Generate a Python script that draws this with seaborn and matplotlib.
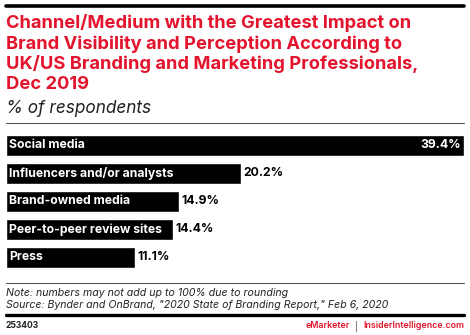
import matplotlib
matplotlib.use("Agg")
import matplotlib.pyplot as plt
import seaborn as sns
import pandas as pd
from matplotlib.lines import Line2D

categories = ["Social media", "Influencers and/or analysts", "Brand-owned media",
              "Peer-to-peer review sites", "Press"]
values = [39.4, 20.2, 14.9, 14.4, 11.1]
value_labels = ["39.4%", "20.2%", "14.9%", "14.4%", "11.1%"]

title_lines = ["Channel/Medium with the Greatest Impact on",
               "Brand Visibility and Perception According to",
               "UK/US Branding and Marketing Professionals,",
               "Dec 2019"]
subtitle = "% of respondents"
note = "Note: numbers may not add up to 100% due to rounding"
source = "Source: Bynder and OnBrand, \"2020 State of Branding Report,\" Feb 6, 2020"
chart_id = "253403"

sns.set_theme(style="white")
plt.rcParams['font.family'] = ['Inter', 'DejaVu Sans']

W, H = 470, 335
fig = plt.figure(figsize=(W/100, H/100), dpi=100)

def fx(x): return x / W
def fy(y): return 1 - y / H

RED = "#e3142d"

# top black line
fig.add_artist(Line2D([fx(6), fx(464)], [fy(6), fy(6)], color="black", lw=2.6))
for k, line in enumerate(title_lines):
    fig.text(fx(6), fy(28.5 + 20.3 * k), line, color=RED, fontsize=13.2,
             fontweight="bold", va="baseline", ha="left")
fig.text(fx(6), fy(113), subtitle, color="#222222", fontsize=12.4, style="italic",
         va="baseline", ha="left")
fig.add_artist(Line2D([fx(6), fx(464)], [fy(123), fy(123)], color="#555555", lw=0.8))

df = pd.DataFrame({"category": categories, "value": values})
ax = fig.add_axes([fx(6), fy(271.5), fx(464) - fx(6), fy(131.5) - fy(271.5)])
sns.barplot(data=df, y="category", x="value", color="black", width=0.75,
            saturation=1, ax=ax, orient="h")
ax.set_xlim(0, values[0])
ax.set_ylim(len(categories) - 0.5, -0.5)
ax.axis("off")

for i, (c, v, lab) in enumerate(zip(categories, values, value_labels)):
    ax.text(0.3, i, c, color="white", fontsize=8.8, fontweight="bold",
            va="center", ha="left")
    if i == 0:
        ax.text(v - 0.3, i, lab, color="white", fontsize=8.8, fontweight="bold",
                va="center", ha="right")
    else:
        ax.text(v + 0.2, i, lab, color="black", fontsize=8.8, fontweight="bold",
                va="center", ha="left")

fig.add_artist(Line2D([fx(6), fx(464)], [fy(283), fy(283)], color="#555555", lw=0.8))
fig.text(fx(6), fy(293), note, color="#222222", fontsize=7.6, style="italic",
         va="center", ha="left")
fig.text(fx(6), fy(305), source, color="#222222", fontsize=7.6, style="italic",
         va="center", ha="left")
fig.add_artist(Line2D([fx(6), fx(464)], [fy(315), fy(315)], color="black", lw=2.4))
fig.text(fx(6), fy(326), chart_id, color="#222222", fontsize=6.2, fontweight="bold",
         va="center", ha="left")

fs = 6.4
t3 = fig.text(fx(464), fy(326), "InsiderIntelligence.com", color=RED, fontsize=fs,
              fontweight="semibold", va="center", ha="right")
fig.canvas.draw()
r = fig.canvas.get_renderer()
bb = t3.get_window_extent(r)
t2 = fig.text(bb.x0 / fig.dpi / fig.get_figwidth() - fx(5), fy(326), "|", color="#333333",
              fontsize=fs, va="center", ha="right")
bb2 = t2.get_window_extent(r)
fig.text(bb2.x0 / fig.dpi / fig.get_figwidth() - fx(5), fy(326), "eMarketer", color=RED,
         fontsize=fs, fontweight="semibold", va="center", ha="right")

fig.savefig("out.png", dpi=100)
